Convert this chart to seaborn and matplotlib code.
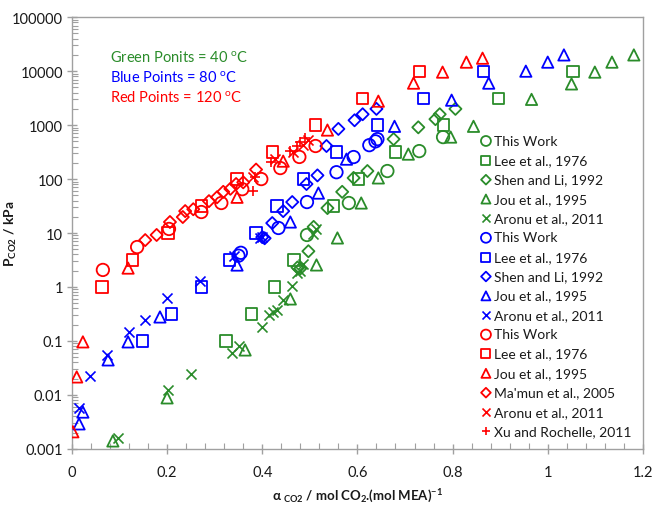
import matplotlib
matplotlib.use("Agg")
import matplotlib.pyplot as plt
import matplotlib.ticker as mticker
import seaborn as sns
import pandas as pd
import numpy as np

# ---------------- data ----------------
# 40 C (green)
g_this_x = [0.494, 0.582, 0.663, 0.730, 0.780]
g_this_p = [9.2, 36, 141, 330, 600]
g_lee_x = [0.324, 0.378, 0.425, 0.467, 0.550, 0.602, 0.680, 0.781, 0.897, 1.053]
g_lee_p = [0.1, 0.316, 1, 3.16, 31.6, 100, 316, 1000, 3160, 10000]
g_shen_x = [0.474, 0.480, 0.497, 0.508, 0.537, 0.568, 0.592, 0.621, 0.676, 0.728, 0.764, 0.773, 0.806]
g_shen_p = [2.3, 2.2, 4.6, 13, 29, 58, 105, 141, 550, 910, 1290, 1590, 2000]
g_jou_x = [0.086, 0.200, 0.364, 0.459, 0.514, 0.558, 0.608, 0.644, 0.707, 0.796, 0.844, 0.966, 1.050, 1.099, 1.135, 1.181]
g_jou_p = [0.0014, 0.0088, 0.068, 0.6, 2.56, 8.1, 36, 105, 290, 600, 950, 3000, 5800, 9600, 14700, 20000]
g_aronu_x = [0.097, 0.202, 0.250, 0.337, 0.352, 0.400, 0.415, 0.422, 0.431, 0.444, 0.463, 0.474, 0.479, 0.486, 0.507, 0.514]
g_aronu_p = [0.0016, 0.0124, 0.0245, 0.06, 0.08, 0.18, 0.30, 0.34, 0.37, 0.57, 1.05, 1.8, 2.0, 2.7, 9.6, 11.8]

# 80 C (blue)
b_this_x = [0.350, 0.355, 0.434, 0.494, 0.556, 0.592, 0.625, 0.638, 0.642]
b_this_p = [3.8, 4.3, 12.4, 37.5, 134, 256, 425, 500, 550]
b_lee_x = [0.149, 0.210, 0.272, 0.331, 0.387, 0.431, 0.487, 0.556, 0.642, 0.739, 0.865]
b_lee_p = [0.1, 0.316, 1, 3.16, 10, 31.6, 100, 316, 1000, 3160, 10000]
b_shen_x = [0.400, 0.405, 0.421, 0.444, 0.463, 0.493, 0.516, 0.535, 0.560, 0.594, 0.611, 0.640]
b_shen_p = [8.4, 8.0, 15.3, 25.5, 37.5, 81, 117, 410, 850, 1230, 1590, 2000]
b_jou_x = [0.015, 0.023, 0.076, 0.118, 0.185, 0.347, 0.459, 0.518, 0.577, 0.678, 0.798, 0.876, 0.954, 1.000, 1.034]
b_jou_p = [0.0029, 0.0048, 0.0445, 0.096, 0.278, 2.55, 16, 55, 234, 950, 2900, 6000, 10000, 14700, 20000]
b_aronu_x = [0.015, 0.038, 0.074, 0.120, 0.154, 0.200, 0.269, 0.341, 0.396, 0.400]
b_aronu_p = [0.0057, 0.0225, 0.055, 0.147, 0.245, 0.63, 1.29, 3.7, 8.0, 8.6]

# 120 C (red)
r_this_x = [0.065, 0.137, 0.204, 0.272, 0.314, 0.358, 0.398, 0.438, 0.478, 0.512]
r_this_p = [2.07, 5.5, 11.9, 24.5, 36, 65, 100, 160, 257, 410]
r_lee_x = [0.063, 0.128, 0.202, 0.272, 0.347, 0.421, 0.512, 0.611, 0.731]
r_lee_p = [1, 3.16, 10, 31.6, 100, 316, 1000, 3160, 10000]
r_jou_x = [0.002, 0.010, 0.023, 0.118, 0.347, 0.444, 0.537, 0.644, 0.718, 0.779, 0.829, 0.863]
r_jou_p = [0.00207, 0.0215, 0.096, 2.24, 46, 215, 810, 2780, 6000, 9600, 14700, 17400]
r_mamun_x = [0.154, 0.178, 0.206, 0.233, 0.238, 0.255, 0.288, 0.305, 0.318, 0.333, 0.345, 0.360, 0.387]
r_mamun_p = [7.4, 9.2, 16, 19.8, 25.5, 27.6, 39, 46, 58, 66, 81, 87, 150]
r_aronu_x = [0.381, 0.427, 0.465, 0.486, 0.497]
r_aronu_p = [110, 235, 316, 425, 525]
r_xu_x = [0.381, 0.385, 0.419, 0.459, 0.474, 0.480, 0.490]
r_xu_p = [60, 110, 206, 330, 410, 484, 574]

GREEN = "#2A8C2A"
BLUE = "#0000FF"
RED = "#FF0000"

series = [
    ("This Work", g_this_x, g_this_p, GREEN, "o"),
    ("Lee et al., 1976", g_lee_x, g_lee_p, GREEN, "s"),
    ("Shen and Li, 1992", g_shen_x, g_shen_p, GREEN, "D"),
    ("Jou et al., 1995", g_jou_x, g_jou_p, GREEN, "^"),
    ("Aronu et al., 2011", g_aronu_x, g_aronu_p, GREEN, "x"),
    ("This Work", b_this_x, b_this_p, BLUE, "o"),
    ("Lee et al., 1976", b_lee_x, b_lee_p, BLUE, "s"),
    ("Shen and Li, 1992", b_shen_x, b_shen_p, BLUE, "D"),
    ("Jou et al., 1995", b_jou_x, b_jou_p, BLUE, "^"),
    ("Aronu et al., 2011", b_aronu_x, b_aronu_p, BLUE, "x"),
    ("This Work", r_this_x, r_this_p, RED, "o"),
    ("Lee et al., 1976", r_lee_x, r_lee_p, RED, "s"),
    ("Jou et al., 1995", r_jou_x, r_jou_p, RED, "^"),
    ("Ma'mun et al., 2005", r_mamun_x, r_mamun_p, RED, "D"),
    ("Aronu et al., 2011", r_aronu_x, r_aronu_p, RED, "x"),
    ("Xu and Rochelle, 2011", r_xu_x, r_xu_p, RED, "+"),
]

sizes = {"o": 80, "s": 66, "D": 38, "^": 66, "x": 52, "+": 62}

sns.set_theme(style="white")
plt.rcParams["font.family"] = ["Lato", "DejaVu Sans"]
plt.rcParams["mathtext.fontset"] = "custom"
plt.rcParams["mathtext.rm"] = "Lato"
plt.rcParams["mathtext.bf"] = "Lato:bold"
plt.rcParams["mathtext.it"] = "Lato:italic"

fig = plt.figure(figsize=(6.54, 5.06), dpi=100)
ax = fig.add_axes([0.110, 0.111, 0.873, 0.853])

for label, xs, ps, col, mk in series:
    df = pd.DataFrame({"x": xs, "p": ps})
    if mk in ("x", "+"):
        sns.scatterplot(data=df, x="x", y="p", ax=ax, marker=mk, s=sizes[mk],
                        color=col, linewidth=1.2, label=label, zorder=3)
    else:
        sns.scatterplot(data=df, x="x", y="p", ax=ax, marker=mk, s=sizes[mk],
                        facecolor="none", edgecolor=col, linewidth=1.3,
                        label=label, zorder=3)

ax.set_yscale("log")
ax.set_xlim(0, 1.2)
ax.set_ylim(0.001, 100000)
ax.set_xticks([0, 0.2, 0.4, 0.6, 0.8, 1.0, 1.2])
ax.set_xticklabels(["0", "0.2", "0.4", "0.6", "0.8", "1", "1.2"])
ax.xaxis.set_minor_locator(mticker.MultipleLocator(0.04))
ax.set_yticks([0.001, 0.01, 0.1, 1, 10, 100, 1000, 10000, 100000])
ax.set_yticklabels(["0.001", "0.01", "0.1", "1", "10", "100", "1000", "10000", "100000"])
ax.yaxis.set_minor_locator(mticker.LogLocator(base=10, subs=np.arange(2, 10), numticks=20))
ax.yaxis.set_minor_formatter(mticker.NullFormatter())

for sp in ax.spines.values():
    sp.set_color("#A0A0A0")
    sp.set_linewidth(1.0)
ax.tick_params(axis="both", which="major", direction="inout", length=7, width=1,
               color="#A0A0A0", labelsize=10.5, labelcolor="#1a1a1a", pad=3)
ax.tick_params(axis="both", which="minor", direction="in", length=4, width=0.8,
               color="#A0A0A0")
ax.tick_params(axis="x", which="both", bottom=True, top=False)
ax.tick_params(axis="y", which="both", left=True, right=False)
ax.tick_params(axis="x", which="major", pad=8)

ax.set_xlabel(r"α $_{\mathbf{CO2}}$ / mol CO$_{\mathbf{2}}$.(mol MEA)$^{\mathbf{-1}}$",
              fontsize=9.5, fontweight="bold", color="#1a1a1a")
ax.xaxis.set_label_coords(0.5, -0.088)
ax.set_ylabel(r"P$_{\mathbf{CO2}}$ / kPa", fontsize=10, fontweight="bold", color="#1a1a1a")
ax.yaxis.set_label_coords(-0.092, 0.5)

ax.text(0.066, 0.907, r"Green Ponits = 40 $^{\mathrm{o}}$C", transform=ax.transAxes,
        color=GREEN, fontsize=10.5, va="center")
ax.text(0.066, 0.861, r"Blue Points = 80 $^{\mathrm{o}}$C", transform=ax.transAxes,
        color=BLUE, fontsize=10.5, va="center")
ax.text(0.066, 0.815, r"Red Points = 120 $^{\mathrm{o}}$C", transform=ax.transAxes,
        color=RED, fontsize=10.5, va="center")

leg = ax.legend(loc="lower right", bbox_to_anchor=(1.0, 0.0), frameon=False,
                fontsize=10, handletextpad=0.05, handlelength=1.0, labelspacing=0.53,
                borderaxespad=0.45, markerscale=0.8)
for t in leg.get_texts():
    t.set_color("#1a1a1a")

fig.savefig("out.png", dpi=100)
